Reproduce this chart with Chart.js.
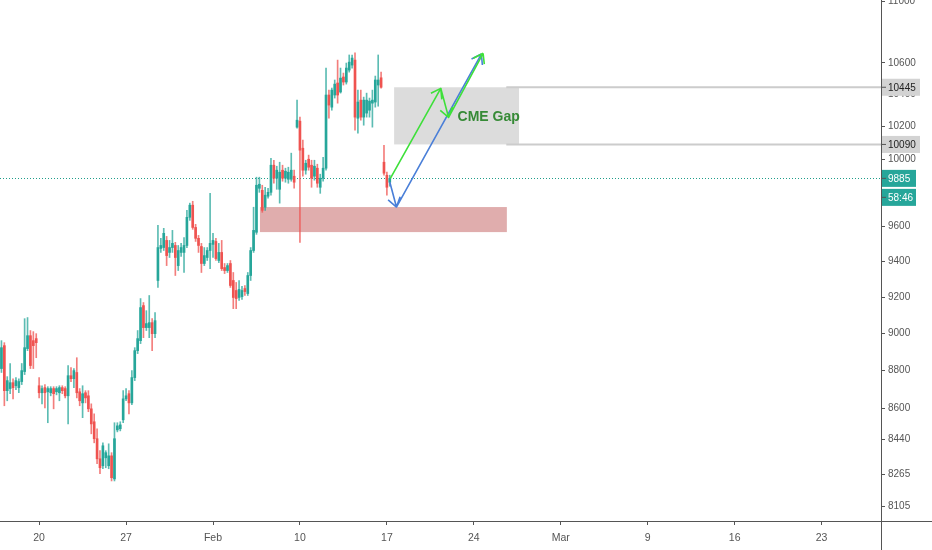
<!DOCTYPE html>
<html>
<head>
<meta charset="utf-8">
<script src="https://cdn.jsdelivr.net/npm/chart.js@4.4.1/dist/chart.umd.min.js"></script>
<style>
  html, body { margin: 0; padding: 0; background: #fff; }
  #wrap { width: 932px; height: 550px; position: relative; }
</style>
</head>
<body>
<div id="wrap"><canvas id="chart"></canvas></div>
<script>
// 4h bars, one slot per bar (weekends skipped, like the exchange session)
const open = [
  8811, 8934, 8694, 8705, 8736, 8720, 8710, 8742, 8795, 8918,
  8988, 8961, 8972, 8720, 8683, 8710, 8688, 8683, 8705, 8688,
  8683, 8710, 8705, 8667, 8773, 8757, 8790, 8688, 8630, 8683,
  8667, 8599, 8532, 8445, 8343, 8308, 8348, 8308, 8358, 8242,
  8490, 8496, 8542, 8651, 8678, 8630, 8763, 8907, 8961, 9153,
  9032, 9032, 9059, 8999, 9293, 9475, 9480, 9521, 9452, 9480,
  9492, 9377, 9452, 9452, 9492, 9655, 9726, 9596, 9533, 9486,
  9389, 9423, 9463, 9498, 9515, 9406, 9452, 9366, 9349, 9389,
  9293, 9237, 9198, 9203, 9248, 9220, 9321, 9463, 9568, 9826,
  9814, 9714, 9779, 9802, 9964, 9886, 9820, 9934, 9886, 9880,
  9880, 9898, 10196, 10233, 10067, 9934, 10000, 9964, 9898, 9946,
  9832, 9886, 9946, 10396, 10320, 10396, 10472, 10415, 10510, 10478,
  10554, 10586, 10618, 10251, 10364, 10258, 10283, 10301, 10345, 10352,
  10459, 10505, 9982, 9904, 9862
];
const high = [
  8961, 8950, 8768, 8838, 8757, 8763, 8757, 8838, 9081, 9087,
  9016, 9010, 8999, 8763, 8720, 8726, 8715, 8715, 8715, 8715,
  8720, 8720, 8715, 8827, 8816, 8811, 8869, 8705, 8720, 8694,
  8694, 8625, 8573, 8496, 8384, 8424, 8384, 8419, 8374, 8527,
  8527, 8532, 8694, 8705, 8694, 8800, 8923, 9016, 9192, 9170,
  9125, 9209, 9081, 9114, 9608, 9533, 9591, 9544, 9521, 9579,
  9510, 9492, 9504, 9538, 9696, 9738, 9749, 9614, 9550, 9504,
  9480, 9480, 9796, 9562, 9533, 9504, 9521, 9389, 9389, 9406,
  9338, 9282, 9293, 9260, 9265, 9338, 9480, 9714, 9892, 9892,
  9844, 9832, 9826, 10006, 9994, 9958, 9982, 9964, 9946, 9952,
  10037, 9934, 10364, 10258, 10116, 9994, 10025, 9994, 9994, 9970,
  9910, 10012, 10567, 10427, 10440, 10491, 10618, 10567, 10535, 10599,
  10651, 10651, 10664, 10427, 10427, 10383, 10408, 10377, 10427, 10516,
  10651, 10541, 10085, 9922, 9904
];
const low = [
  8790, 8615, 8641, 8678, 8651, 8699, 8683, 8726, 8779, 8907,
  8811, 8811, 8869, 8656, 8625, 8604, 8527, 8667, 8599, 8672,
  8641, 8678, 8656, 8521, 8742, 8710, 8656, 8615, 8553, 8630,
  8584, 8470, 8424, 8318, 8268, 8293, 8298, 8293, 8232, 8232,
  8480, 8485, 8527, 8641, 8573, 8620, 8747, 8891, 8945, 8977,
  9016, 8977, 8907, 8977, 9254, 9452, 9463, 9377, 9423, 9452,
  9321, 9349, 9429, 9338, 9480, 9637, 9585, 9515, 9452, 9338,
  9377, 9406, 9360, 9423, 9406, 9394, 9349, 9332, 9338, 9254,
  9136, 9136, 9181, 9187, 9209, 9209, 9293, 9452, 9556, 9802,
  9684, 9696, 9767, 9785, 9856, 9820, 9738, 9868, 9862, 9856,
  9868, 9826, 10190, 9510, 9898, 9910, 9934, 9832, 9874, 9832,
  9796, 9868, 9934, 10251, 10301, 10377, 10345, 10408, 10459, 10465,
  10541, 10567, 10177, 10159, 10239, 10208, 10258, 10258, 10196, 10320,
  10326, 10440, 9904, 9785, 9838
];
const close = [
  8923, 8694, 8747, 8736, 8710, 8747, 8742, 8800, 8923, 8988,
  8827, 8934, 8950, 8683, 8705, 8683, 8705, 8705, 8678, 8705,
  8710, 8694, 8667, 8773, 8757, 8800, 8683, 8641, 8678, 8656,
  8599, 8521, 8445, 8343, 8298, 8409, 8374, 8358, 8248, 8445,
  8511, 8516, 8651, 8667, 8630, 8763, 8907, 8972, 9142, 9032,
  9054, 9059, 8999, 9070, 9480, 9492, 9562, 9434, 9480, 9504,
  9423, 9463, 9480, 9492, 9655, 9726, 9596, 9533, 9492, 9389,
  9434, 9463, 9504, 9521, 9417, 9452, 9360, 9349, 9377, 9265,
  9198, 9192, 9243, 9237, 9231, 9321, 9463, 9579, 9844, 9850,
  9696, 9785, 9802, 9964, 9886, 9934, 9922, 9886, 9928, 9922,
  9934, 9862, 10239, 10055, 9934, 9976, 9952, 9886, 9958, 9856,
  9886, 9946, 10396, 10333, 10427, 10465, 10396, 10503, 10478, 10567,
  10605, 10631, 10258, 10352, 10258, 10364, 10364, 10358, 10364, 10491,
  10491, 10445, 9916, 9832, 9885
];

const slotCount = 304;                 // bars visible incl. empty future space
const weekSlots = [13, 43, 73, 103, 133, 163, 193, 223, 253, 283];
const weekLabels = ['20', '27', 'Feb', '10', '17', '24', 'Mar', '9', '16', '23'];
const priceTicks = [11000, 10600, 10400, 10200, 10000, 9600, 9400, 9200, 9000, 8800, 8600, 8440, 8265, 8105];
const lastPrice = 9885;
const countdown = '58:46';

// drawings (bar slot, price)
const gapZone = [10090, 10445];
const gapSlots = [135.5, 178.6];
const gapLineStart = 174.2;
const supportZone = [9569, 9715];
const supportSlots = [89.2, 174.4];
const greenPath = [[134.2, 9885], [151.6, 10438], [154.3, 10256], [166.2, 10662]];
const bluePath = [[134.0, 9863], [136.3, 9715], [165.6, 10657]];
const gapText = 'CME Gap';
const gapTextAt = [157.4, 10261];

const UP = '#26a69a', DOWN = '#ef5350';
const isUp = close.map((c, i) => c >= open[i]);

const overlay = {
  id: 'overlay',
  beforeDatasetsDraw(chart) {
    const { ctx, scales: { x, y }, chartArea: a } = chart;
    ctx.save();
    // support zone
    let x1 = x.getPixelForValue(supportSlots[0]), x2 = x.getPixelForValue(supportSlots[1]);
    let y1 = y.getPixelForValue(supportZone[1]), y2 = y.getPixelForValue(supportZone[0]);
    ctx.fillStyle = '#e0adad';
    ctx.fillRect(x1, y1, x2 - x1, y2 - y1);
    // gap box
    x1 = x.getPixelForValue(gapSlots[0]); x2 = x.getPixelForValue(gapSlots[1]);
    y1 = y.getPixelForValue(gapZone[1]); y2 = y.getPixelForValue(gapZone[0]);
    ctx.fillStyle = '#dcdcdc';
    ctx.fillRect(x1, y1, x2 - x1, y2 - y1);
    // gap lines to the axis
    const lx = x.getPixelForValue(gapLineStart);
    ctx.strokeStyle = '#cccccc';
    ctx.lineWidth = 2;
    ctx.beginPath();
    ctx.moveTo(lx, y1); ctx.lineTo(a.right, y1);
    ctx.moveTo(lx, y2); ctx.lineTo(a.right, y2);
    ctx.stroke();
    // last price line
    const ly = Math.round(y.getPixelForValue(lastPrice)) + 0.5;
    ctx.strokeStyle = '#1f9e8a';
    ctx.lineWidth = 1;
    ctx.setLineDash([1, 2]);
    ctx.beginPath();
    ctx.moveTo(a.left, ly); ctx.lineTo(a.right, ly);
    ctx.stroke();
    ctx.restore();
  },
  afterDraw(chart) {
    const { ctx, scales: { x, y }, chartArea: a } = chart;
    const pt = p => ({ x: x.getPixelForValue(p[0]), y: y.getPixelForValue(p[1]) });
    const head = (from, to, len) => {
      const ang = Math.atan2(to.y - from.y, to.x - from.x) + Math.PI;
      for (const s of [-0.6, 0.6]) {
        ctx.moveTo(to.x, to.y);
        ctx.lineTo(to.x + len * Math.cos(ang + s), to.y + len * Math.sin(ang + s));
      }
    };
    const drawPath = (path, color, heads) => {
      const p = path.map(pt);
      ctx.strokeStyle = color;
      ctx.lineWidth = 1.6;
      ctx.lineJoin = 'round';
      ctx.beginPath();
      p.forEach((q, i) => i ? ctx.lineTo(q.x, q.y) : ctx.moveTo(q.x, q.y));
      heads.forEach(i => head(p[i - 1], p[i], 11));
      ctx.stroke();
    };
    ctx.save();
    drawPath(bluePath, '#4a7fd8', [1, 2]);
    drawPath(greenPath, '#3ee03a', [1, 2, 3]);

    const t = pt(gapTextAt);
    ctx.fillStyle = '#368a36';
    ctx.font = 'bold 14px "Liberation Sans"';
    ctx.textBaseline = 'middle';
    ctx.textAlign = 'left';
    ctx.fillText(gapText, t.x, t.y);

    // axis lines crossing at the corner
    ctx.strokeStyle = '#555';
    ctx.lineWidth = 1;
    ctx.beginPath();
    ctx.moveTo(a.right, a.bottom + 0.5); ctx.lineTo(chart.width, a.bottom + 0.5);
    ctx.moveTo(a.right + 0.5, a.bottom); ctx.lineTo(a.right + 0.5, chart.height);
    ctx.stroke();

    // price labels on the axis
    ctx.font = '10px "Liberation Sans"';
    const tag = (val, text, bg, fg, w, dy) => {
      const cy = y.getPixelForValue(val) + (dy || 0);
      ctx.fillStyle = bg;
      ctx.fillRect(a.right + 1, cy - 8.5, w, 17);
      ctx.strokeStyle = '#555';
      ctx.beginPath(); ctx.moveTo(a.right + 1, cy); ctx.lineTo(a.right + 5, cy); ctx.stroke();
      ctx.fillStyle = fg;
      ctx.fillText(text, a.right + 7, cy + 0.5);
    };
    tag(gapZone[1], String(gapZone[1]), '#d3d3d3', '#222', 38);
    tag(gapZone[0], String(gapZone[0]), '#d3d3d3', '#222', 38);
    tag(lastPrice, String(lastPrice), UP, '#fff', 34);
    tag(lastPrice, countdown, UP, '#fff', 34, 19);
    ctx.restore();
  }
};

new Chart(document.getElementById('chart').getContext('2d'), {
  type: 'bar',
  data: {
    labels: Array.from({ length: slotCount }, (_, i) => String(i)),
    datasets: [
      {
        label: 'body',
        data: open.map((o, i) => [o, close[i]]),
        backgroundColor: isUp.map(u => u ? UP : DOWN),
        barThickness: 2,
        minBarLength: 1,
        grouped: false,
        order: 0
      },
      {
        label: 'wick',
        data: low.map((l, i) => [l, high[i]]),
        backgroundColor: isUp.map(u => u ? 'rgba(38,166,154,0.75)' : 'rgba(239,83,80,0.75)'),
        barThickness: 1,
        grouped: false,
        order: 1
      }
    ]
  },
  options: {
    responsive: true,
    maintainAspectRatio: false,
    animation: false,
    devicePixelRatio: 1,
    layout: { padding: 0, autoPadding: false },
    plugins: { legend: { display: false }, tooltip: { enabled: false } },
    scales: {
      x: {
        type: 'category',
        offset: true,
        afterBuildTicks: s => { s.ticks = weekSlots.map(v => ({ value: v })); },
        afterFit: s => { s.height = 29; s.paddingLeft = 0; s.paddingRight = 0; },
        grid: { drawOnChartArea: false, offset: false, tickLength: 4, color: '#555' },
        border: { color: '#555' },
        ticks: {
          autoSkip: false, maxRotation: 0, padding: 7,
          color: '#555', font: { family: 'Liberation Sans', size: 10.5 },
          callback: (v, i) => weekLabels[i]
        }
      },
      y: {
        type: 'logarithmic',
        position: 'right',
        min: 8035,
        max: 11011,
        afterBuildTicks: s => { s.ticks = priceTicks.map(v => ({ value: v })); },
        afterFit: s => { s.width = 51; s.paddingTop = 0; s.paddingBottom = 0; },
        grid: { drawOnChartArea: false, tickLength: 4, color: '#555' },
        border: { color: '#555' },
        ticks: {
          padding: 3, color: '#555', font: { family: 'Liberation Sans', size: 10 },
          callback: v => String(v)
        }
      }
    }
  },
  plugins: [overlay]
});
</script>
</body>
</html>
